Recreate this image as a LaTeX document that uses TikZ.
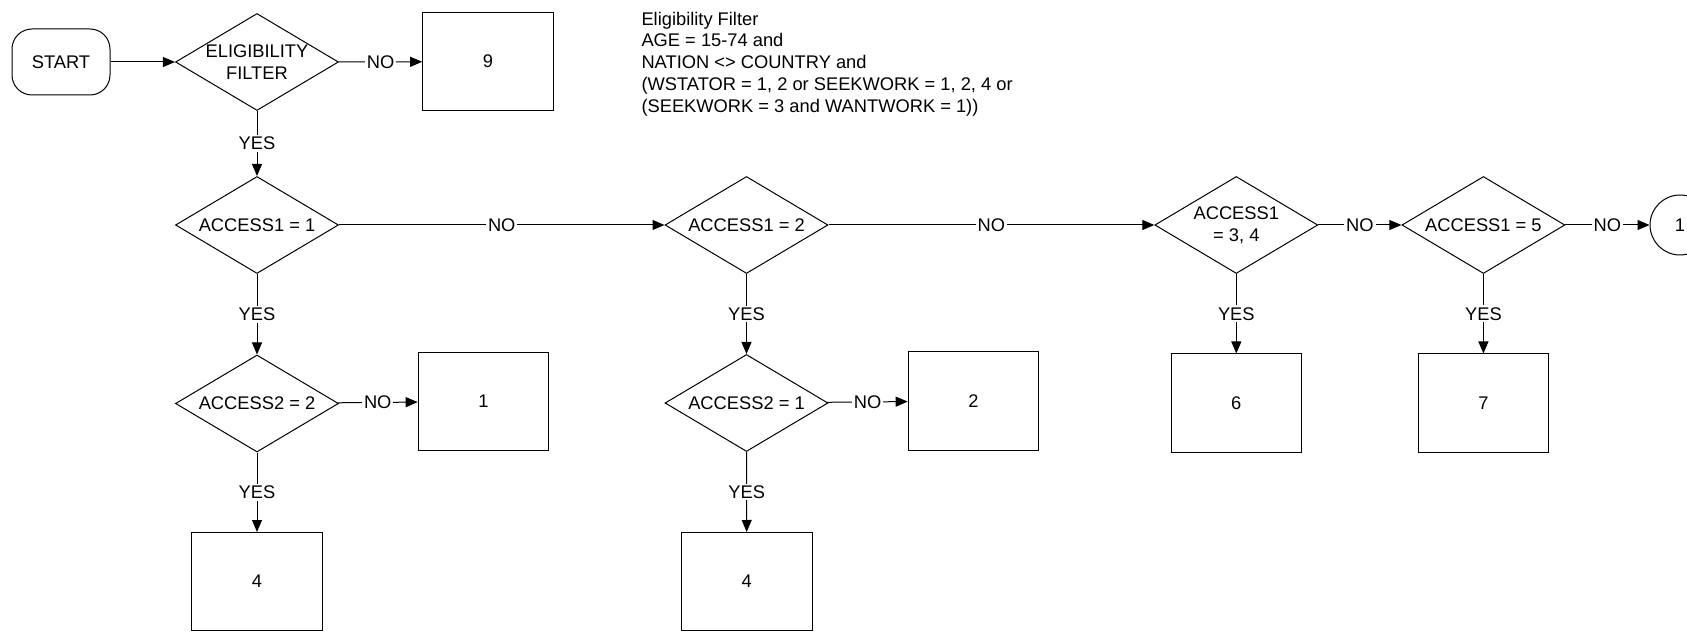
\documentclass[tikz,border=0pt]{standalone}
\usepackage{fontspec}
\setmainfont{Liberation Sans}
\usetikzlibrary{arrows.meta,shapes.geometric}

\begin{document}
\begin{tikzpicture}[x=0.5pt,y=-0.5pt,line width=0.5pt,
    every node/.style={font=\fontsize{9.15}{11}\selectfont},
    decision/.style={diamond,draw,aspect=1.68,inner sep=0pt,minimum width=81.5pt,minimum height=48.5pt,align=center},
    outbox/.style={rectangle,draw,minimum width=65.3pt,minimum height=49pt},
    lbl/.style={fill=white,inner sep=1pt},
    link/.style={-{Triangle[length=6pt,width=5pt]}}]
  \useasboundingbox (0,0) rectangle (1687,636);
  \node[draw,rounded corners=10pt,minimum width=49pt,minimum height=33pt] (start) at (61,62) {START};
  \node[decision] (elig) at (257,62) {ELIGIBILITY\\FILTER};
  \node[decision] (a11) at (257,225) {ACCESS1 = 1};
  \node[decision] (a12) at (746.5,225) {ACCESS1 = 2};
  \node[decision] (a134) at (1236.3,225) {ACCESS1\\= 3, 4};
  \node[decision] (a15) at (1483.4,225) {ACCESS1 = 5};
  \node[decision] (a22) at (257,403.5) {ACCESS2 = 2};
  \node[decision] (b21) at (746.5,403) {ACCESS2 = 1};
  \foreach \n/\x/\y/\t in {o9/488/61.7/9, o1/483.5/401.5/1, o4a/257/581.5/4, o2/973.5/401/2,
      o4b/746.8/581.5/4, o6/1236.3/403/6, o7/1483.4/403/7}
    \node[outbox] (\n) at (\x,\y) {\t};
  \node[circle,draw,minimum size=30pt,inner sep=0pt] (c1) at (1680,225) {1};
  \node[align=left,anchor=north west,inner sep=0pt,font=\fontsize{9.15}{10.85}\selectfont] (note) at (641,11.5)
    {Eligibility Filter\\AGE = 15-74 and\\NATION <> COUNTRY and\\(WSTATOR = 1, 2 or SEEKWORK = 1, 2, 4 or\\(SEEKWORK = 3 and WANTWORK = 1))};

  \draw[link] (start) -- (elig);
  \draw[link] (elig) -- node[lbl] {NO} (o9);
  \draw[link] (elig) -- node[lbl] {YES} (a11);
  \draw[link] (a11) -- node[lbl] {NO} (a12);
  \draw[link] (a12) -- node[lbl] {NO} (a134);
  \draw[link] (a134) -- node[lbl] {NO} (a15);
  \draw[link] (a15) -- node[lbl] {NO} (c1);
  \draw[link] (a11) -- node[lbl] {YES} (a22);
  \draw[link] (a22) -- node[lbl] {NO} (o1);
  \draw[link] (a22) -- node[lbl] {YES} (o4a);
  \draw[link] (a12) -- node[lbl] {YES} (b21);
  \draw[link] (b21) -- node[lbl] {NO} (o2);
  \draw[link] (b21) -- node[lbl] {YES} (o4b);
  \draw[link] (a134) -- node[lbl] {YES} (o6);
  \draw[link] (a15) -- node[lbl] {YES} (o7);
\end{tikzpicture}
\end{document}
